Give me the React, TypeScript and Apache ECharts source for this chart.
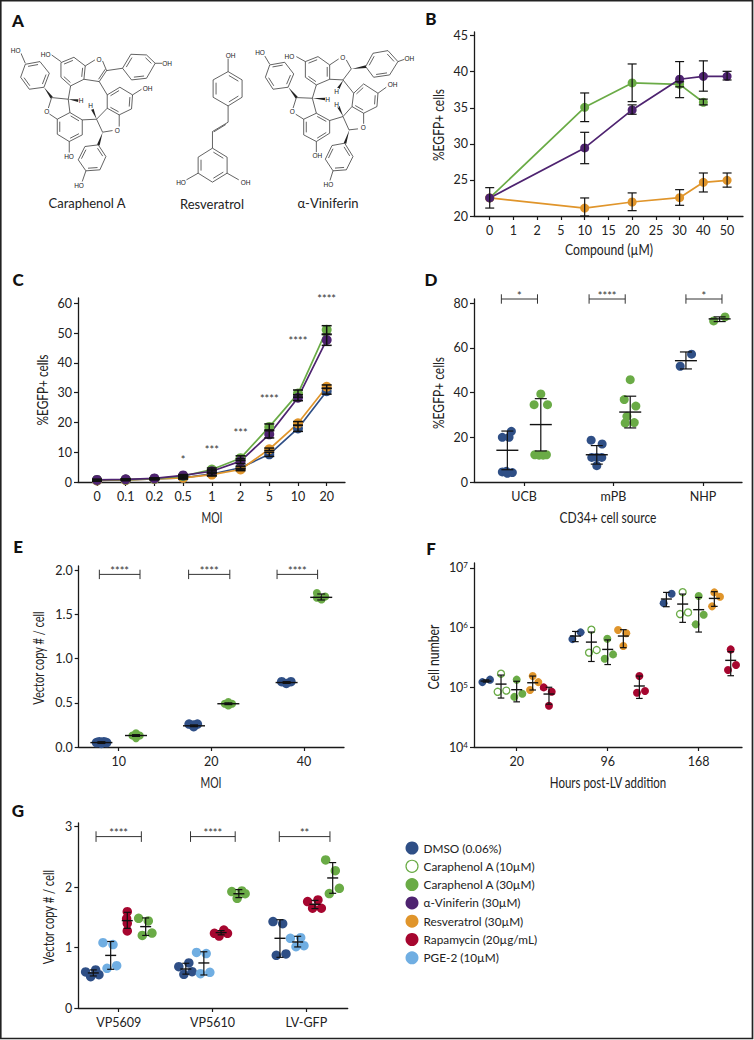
import React, { useEffect, useRef } from "react";
import * as echarts from "echarts";

const FONT = "Lato";
const INK = "#1a1a1a";
const COLORS: Record<string, string> = {
  dmso: "#2f4f86", open: "#6aab46", cara: "#6aab46", vini: "#4e2370",
  resv: "#e0952b", rapa: "#a6062f", pge: "#70aee2",
};

// ---------- Panel B ----------
const bCategories = ["0", "1", "2", "5", "10", "15", "20", "25", "30", "40", "50"];
const bCara = [22.5, null, null, null, 35.06, null, 38.44, null, 38.25, 35.76, null];
const bCaraLow = [22.5, null, null, null, 33.08, null, 35.85, null, 37.9, 35.4, null];
const bCaraHigh = [22.5, null, null, null, 37.05, null, 41.07, null, 38.6, 36.2, null];
const bVini = [22.5, null, null, null, 29.43, null, 34.7, null, 38.95, 39.36, 39.36];
const bViniLow = [21.1, null, null, null, 27.25, null, 34.1, null, 36.4, 37.3, 38.85];
const bViniHigh = [23.93, null, null, null, 31.6, null, 35.4, null, 41.4, 41.5, 40.05];
const bResv = [22.5, null, null, null, 21.1, null, 21.94, null, 22.54, 24.67, 24.95];
const bResvLow = [22.5, null, null, null, 20.0, null, 20.74, null, 21.48, 23.33, 24.0];
const bResvHigh = [22.5, null, null, null, 22.5, null, 23.2, null, 23.65, 25.96, 25.96];

// ---------- Panel C ----------
const cCategories = ["0", "0.1", "0.2", "0.5", "1", "2", "5", "10", "20"];
const cDmso = [0.5, 0.7, 1.0, 1.4, 2.7, 4.8, 9.3, 18, 30.5];
const cDmsoErr = [0.2, 0.2, 0.2, 0.3, 0.4, 0.5, 0.7, 1, 1];
const cResv = [0.5, 0.7, 1.0, 1.4, 2.5, 4.2, 11, 19.7, 32];
const cResvErr = [0.2, 0.2, 0.2, 0.4, 0.5, 0.4, 0.4, 0.6, 0.6];
const cCara = [0.7, 0.8, 1.1, 2.0, 4.2, 8, 18.5, 29.7, 51.1];
const cCaraErr = [0.2, 0.2, 0.2, 0.3, 0.5, 0.8, 1.0, 1.2, 1.4];
const cVini = [0.7, 0.9, 1.2, 2.2, 3.6, 7, 16, 28.3, 47.7];
const cViniErr = [0.2, 0.2, 0.2, 0.3, 0.5, 0.8, 1.2, 1.0, 1.8];
const cStars: [number, number, string][] = [
  [3, 8.4, "*"], [4, 12, "***"], [5, 17.8, "***"], [6, 29.2, "****"], [7, 48.4, "****"], [8, 62.5, "****"],
];

// ---------- Panel D ----------
const dCategories = ["UCB", "mPB", "NHP"];
// category, compound, offset within the category, mean, low, high, dot offsets, dot values
type Group = [number, string, number, number, number, number, number[], number[]];
const dUcb: Group[] = [
  [0, "dmso", -0.187, 14.2, 5.5, 22.8, [-0.142, -0.243, -0.168, -0.243, -0.187, -0.131, -0.198], [22.7, 20, 20, 4.5, 3.9, 4.2, 4.8]],
  [0, "cara", 0.187, 25.7, 13.9, 37.3, [0.187, 0.112, 0.262, 0.12, 0.168, 0.213, 0.25], [39.4, 34.6, 34.6, 12.2, 12, 12, 12.2]],
];
const dMpb: Group[] = [
  [1, "dmso", -0.187, 12.2, 8, 16.3, [-0.25, -0.127, -0.243, -0.187, -0.131, -0.187], [18.7, 17, 11, 11, 11, 7.3]],
  [1, "cara", 0.187, 31.3, 24.2, 38.4, [0.187, 0.12, 0.25, 0.15, 0.131, 0.232], [45.8, 36.9, 34, 29.4, 26.4, 26.6]],
];
const dNhp: Group[] = [
  [2, "dmso", -0.19, 54.3, 50.6, 58.2, [-0.127, -0.254], [57.2, 51.8]],
  [2, "cara", 0.187, 73, 71.8, 73.9, [0.247, 0.12], [73.9, 72.1]],
];
const dBrackets: [number, number, number, string][] = [
  [-0.254, 0.15, 81.9, "*"], [0.727, 1.131, 81.9, "****"], [1.81, 2.213, 81.9, "*"],
];

// ---------- Panel E ----------
const eCategories = ["10", "20", "40"];
const eDmso: Group[] = [
  [0, "dmso", -0.187, 0.05, 0.04, 0.06, [-0.24, -0.21, -0.187, -0.16, -0.13], [0.05, 0.06, 0.04, 0.06, 0.05]],
  [1, "dmso", -0.187, 0.24, 0.23, 0.25, [-0.24, -0.15, -0.19, -0.19], [0.26, 0.26, 0.23, 0.25]],
  [2, "dmso", -0.187, 0.73, 0.72, 0.74, [-0.24, -0.14, -0.19], [0.74, 0.74, 0.72]],
];
const eCara: Group[] = [
  [0, "cara", 0.187, 0.13, 0.12, 0.14, [0.148, 0.187, 0.187, 0.227], [0.13, 0.155, 0.1, 0.13]],
  [1, "cara", 0.184, 0.49, 0.48, 0.5, [0.145, 0.184, 0.184, 0.224], [0.49, 0.51, 0.47, 0.49]],
  [2, "cara", 0.187, 1.695, 1.665, 1.733, [0.14, 0.19, 0.14, 0.23], [1.745, 1.67, 1.69, 1.705]],
];
const eBrackets: [number, number, number, string][] = [
  [-0.209, 0.23, 1.955, "****"], [0.755, 1.2, 1.955, "****"], [1.71, 2.148, 1.955, "****"],
];

// ---------- Panel F ----------
const fCategories = ["20", "96", "168"];
const f20h: Group[] = [
  [0, "dmso", -0.337, 1.27e5, 1.22e5, 1.33e5, [-0.377, -0.293], [1.22e5, 1.34e5]],
  [0, "open", -0.172, 1.13e5, 6.6e4, 1.6e5, [-0.172, -0.209, -0.114], [1.69e5, 8.4e4, 8.8e4]],
  [0, "cara", 0, 9.1e4, 5.7e4, 1.26e5, [0, -0.026, 0.062], [1.34e5, 6.9e4, 7.8e4]],
  [0, "resv", 0.176, 1.19e5, 9.0e4, 1.54e5, [0.176, 0.238, 0.147], [1.54e5, 1.22e5, 9.0e4]],
  [0, "rapa", 0.355, 7.7e4, 5.2e4, 1.0e5, [0.297, 0.385, 0.355], [9.95e4, 8.4e4, 4.9e4]],
];
const f96h: Group[] = [
  [1, "dmso", -0.355, 7.2e5, 5.8e5, 8.6e5, [-0.388, -0.297], [6.4e5, 8.3e5]],
  [1, "open", -0.179, 5.7e5, 2.7e5, 8.4e5, [-0.179, -0.205, -0.121], [9.2e5, 3.8e5, 4.2e5]],
  [1, "cara", 0, 4.3e5, 2.4e5, 6.2e5, [-0.004, -0.033, 0.059], [6.5e5, 3.0e5, 3.55e5]],
  [1, "resv", 0.172, 7.2e5, 4.6e5, 9.2e5, [0.114, 0.205, 0.172], [9.1e5, 8.0e5, 4.9e5]],
  [1, "rapa", 0.348, 1.05e5, 6.5e4, 1.54e5, [0.348, 0.322, 0.41], [1.54e5, 8.1e4, 8.65e4]],
];
const f168h: Group[] = [
  [2, "dmso", -0.355, 3.0e6, 2.23e6, 3.87e6, [-0.385, -0.297], [2.56e6, 3.67e6]],
  [2, "open", -0.176, 2.47e6, 1.22e6, 3.63e6, [-0.176, -0.205, -0.117], [3.9e6, 1.68e6, 1.79e6]],
  [2, "cara", 0, 1.99e6, 8.4e5, 3.19e6, [0, -0.033, 0.055], [3.36e6, 1.13e6, 1.64e6]],
  [2, "resv", 0.172, 3.07e6, 2.26e6, 3.98e6, [0.172, 0.234, 0.147], [3.87e6, 3.27e6, 2.26e6]],
  [2, "rapa", 0.352, 2.82e5, 1.56e5, 3.94e5, [0.352, 0.41, 0.322], [4.3e5, 2.36e5, 1.94e5]],
];

// ---------- Panel G ----------
const gCategories = ["VP5609", "VP5610", "LV-GFP"];
const g5609: Group[] = [
  [0, "dmso", -0.27, 0.58, 0.53, 0.63, [-0.352, -0.245, -0.298, -0.21], [0.596, 0.629, 0.518, 0.552]],
  [0, "pge", -0.085, 0.87, 0.64, 1.1, [-0.167, -0.06, -0.124, -0.021], [1.08, 1.05, 0.656, 0.7]],
  [0, "rapa", 0.092, 1.445, 1.318, 1.583, [0.092, 0.085, 0.092, 0.092], [1.594, 1.478, 1.4, 1.274]],
  [0, "cara", 0.288, 1.346, 1.2, 1.49, [0.213, 0.316, 0.355, 0.252], [1.484, 1.44, 1.24, 1.2]],
];
const g5610: Group[] = [
  [1, "dmso", -0.284, 0.645, 0.56, 0.74, [-0.359, -0.252, -0.305, -0.217], [0.684, 0.745, 0.557, 0.6]],
  [1, "pge", -0.092, 0.745, 0.546, 0.93, [-0.17, -0.067, -0.128, -0.028], [0.92, 0.9, 0.568, 0.59]],
  [1, "rapa", 0.092, 1.247, 1.21, 1.28, [0.021, 0.121, 0.071, 0.16], [1.235, 1.29, 1.19, 1.235]],
  [1, "cara", 0.281, 1.89, 1.826, 1.958, [0.206, 0.313, 0.263, 0.348], [1.925, 1.936, 1.815, 1.89]],
];
const gLvGfp: Group[] = [
  [2, "dmso", -0.281, 1.153, 0.838, 1.46, [-0.355, -0.252, -0.32, -0.217], [1.43, 1.395, 0.871, 0.894]],
  [2, "pge", -0.092, 1.092, 1.01, 1.186, [-0.17, -0.06, -0.11, -0.025], [1.153, 1.164, 1.015, 1.03]],
  [2, "rapa", 0.092, 1.715, 1.644, 1.78, [0.014, 0.124, 0.067, 0.16], [1.76, 1.787, 1.65, 1.65]],
  [2, "cara", 0.281, 2.151, 1.897, 2.405, [0.206, 0.309, 0.245, 0.352], [2.449, 2.272, 1.892, 1.98]],
];
const gBrackets: [number, number, number, string][] = [
  [-0.241, 0.242, 2.835, "****"], [-0.234 + 1, 0.242 + 1, 2.835, "****"], [-0.288 + 2, 0.252 + 2, 2.835, "**"],
];

// ---------- Legend ----------
const legendItems: [string, string][] = [
  ["dmso", "DMSO (0.06%)"], ["open", "Caraphenol A (10µM)"], ["cara", "Caraphenol A (30µM)"],
  ["vini", "α-Viniferin (30µM)"], ["resv", "Resveratrol (30µM)"], ["rapa", "Rapamycin (20µg/mL)"], ["pge", "PGE-2 (10µM)"],
];

// ---------- Axis titles: text, horizontal?, centre x, centre y, printed length ----------
const axisTitles: [string, boolean, number, number, number][] = [
  ["%EGFP+ cells", false, 437.7, 125, 72], ["Compound (µM)", true, 609, 249, 88],
  ["%EGFP+ cells", false, 41.7, 390, 71], ["MOI", true, 212, 516.7, 21],
  ["%EGFP+ cells", false, 437.7, 393, 72], ["CD34+ cell source", true, 608, 517, 97],
  ["Vector copy # / cell", false, 38, 658, 94], ["MOI", true, 211, 782, 21],
  ["Cell number", false, 432.7, 657, 65], ["Hours post-LV addition", true, 608, 782, 117],
  ["Vector copy # / cell", false, 48, 917, 95],
];

// ---------- Panel A: skeletal formulas, in the 3x drawing space ----------
type P = [number, number];
const seg = (a: P, b: P) => `M${a[0]} ${a[1]}L${b[0]} ${b[1]}`;
function ring(pts: P[], start = 0) {
  let d = `M${pts[0][0]} ${pts[0][1]}` + pts.slice(1).map((p) => `L${p[0]} ${p[1]}`).join("") + "Z";
  const cx = pts.reduce((s, p) => s + p[0], 0) / pts.length;
  const cy = pts.reduce((s, p) => s + p[1], 0) / pts.length;
  for (let i = start; i < pts.length; i += 2) {
    const a = pts[i], b = pts[(i + 1) % pts.length];
    const ia: P = [a[0] + (cx - a[0]) * 0.2 + (b[0] - a[0]) * 0.06, a[1] + (cy - a[1]) * 0.2 + (b[1] - a[1]) * 0.06];
    const ib: P = [b[0] + (cx - b[0]) * 0.2 + (a[0] - b[0]) * 0.06, b[1] + (cy - b[1]) * 0.2 + (a[1] - b[1]) * 0.06];
    d += seg(ia, ib);
  }
  return d;
}
const molPath = [
  // Caraphenol A
  seg([63, 160], [76, 190]), ring([[76, 193], [120, 185], [148, 220], [132, 262], [88, 268], [62, 232]]),
  seg([155, 165], [183, 185]), ring([[183, 188], [222, 172], [256, 198], [252, 238], [212, 258], [183, 232]]),
  seg([256, 198], [285, 180]), seg([308, 183], [320, 212]), seg([320, 212], [298, 245]), seg([316, 208], [296, 238]), seg([298, 245], [252, 238]),
  seg([320, 212], [368, 205]), ring([[368, 205], [393, 163], [440, 165], [466, 190], [440, 235], [395, 240]]), seg([466, 190], [488, 190]),
  seg([298, 245], [322, 285]), ring([[322, 285], [360, 262], [398, 285], [395, 327], [358, 345], [322, 325]]), seg([398, 285], [425, 268]),
  seg([358, 345], [358, 380]), seg([338, 392], [308, 397]), seg([308, 397], [290, 358]), seg([290, 358], [322, 325]),
  ring([[295, 435], [318, 470], [300, 510], [258, 513], [235, 480], [255, 440]]), seg([258, 513], [247, 545]),
  seg([155, 293], [205, 298]), seg([155, 293], [145, 325]), seg([148, 342], [172, 358]), seg([205, 298], [210, 338]),
  ring([[210, 338], [247, 360], [247, 405], [208, 425], [172, 403], [172, 358]]), seg([208, 425], [208, 458]),
  seg([247, 360], [290, 358]), seg([212, 258], [205, 298]),
  // Resveratrol
  seg([685, 175], [685, 215]), ring([[685, 215], [727, 240], [727, 292], [685, 318], [640, 292], [640, 240]]),
  seg([685, 318], [685, 367]), seg([685, 367], [638, 395]), seg([678, 374], [642, 396]), seg([638, 395], [638, 445]),
  ring([[638, 445], [682, 472], [682, 520], [638, 547], [595, 520], [595, 472]]), seg([595, 520], [560, 540]), seg([682, 520], [717, 540]),
  // alpha-Viniferin
  seg([795, 168], [810, 193]), ring([[810, 195], [855, 187], [882, 222], [865, 262], [820, 268], [797, 232]]),
  seg([890, 293], [938, 295]), seg([890, 293], [880, 325]), seg([888, 343], [912, 358]), seg([938, 295], [950, 340]),
  ring([[950, 340], [990, 362], [990, 400], [950, 425], [912, 405], [912, 358]]), seg([950, 425], [950, 458]),
  seg([990, 362], [1030, 350]), seg([938, 295], [950, 255]),
  seg([890, 170], [917, 185]), ring([[917, 185], [955, 170], [990, 195], [990, 238], [950, 255], [917, 232]]),
  seg([990, 195], [1017, 177]), seg([1040, 180], [1055, 207]), seg([1055, 207], [1030, 240]), seg([1030, 240], [990, 238]),
  ring([[1098, 200], [1120, 160], [1165, 152], [1195, 185], [1170, 225], [1122, 232]]), seg([1195, 185], [1215, 178]),
  seg([1030, 240], [1062, 280]), ring([[1062, 280], [1092, 252], [1135, 280], [1132, 320], [1092, 340], [1057, 320]]), seg([1135, 280], [1160, 262]),
  seg([1092, 340], [1092, 372]), seg([1075, 387], [1048, 390]), seg([1048, 390], [1030, 350]), seg([1030, 350], [1057, 320]),
  ring([[1035, 430], [1060, 470], [1040, 510], [1000, 513], [977, 478], [997, 437]]), seg([1000, 513], [990, 545]),
].join("");
echarts.graphic.registerShape("mol", echarts.graphic.extendPath(molPath, {}) as any);

const wedges: [P, P][] = [
  [[132, 262], [155, 293]], [[205, 298], [235, 302]], [[290, 358], [277, 328]], [[308, 397], [295, 435]],
  [[865, 262], [890, 293]], [[938, 295], [975, 297]], [[1055, 207], [1098, 200]], [[1030, 240], [1015, 265]],
  [[1030, 350], [1015, 320]], [[1048, 390], [1035, 430]],
];
const atomLabels: [number, number, string][] = [
  [47, 152, "HO"], [137, 163, "HO"], [297, 178, "O"], [501, 190, "OH"], [443, 265, "OH"], [243, 302, "H"], [272, 317, "H"],
  [140, 335, "O"], [352, 392, "O"], [207, 470, "HO"], [237, 557, "HO"],
  [692, 165, "OH"], [543, 547, "HO"], [737, 547, "OH"],
  [780, 158, "HO"], [868, 168, "HO"], [1028, 172, "O"], [1228, 176, "OH"], [1178, 253, "OH"], [983, 297, "H"], [1010, 275, "H"],
  [1010, 312, "H"], [877, 335, "O"], [1090, 382, "O"], [952, 467, "OH"], [985, 552, "HO"],
];
const compoundNames: [number, number, string][] = [[87, 203, "Caraphenol A"], [212, 204, "Resveratrol"], [328, 203, "α-Viniferin"]];
const panelLetters: [number, number, string][] = [
  [18, 20, "A"], [431, 18, "B"], [18, 279, "C"], [431, 279, "D"], [18, 546, "E"], [431, 548, "F"], [18, 810, "G"],
];

// ---------- Helpers ----------
const grids = [
  { left: 474, top: 32, width: 269, height: 184 },   // B
  { left: 78, top: 298, width: 267, height: 184 },   // C
  { left: 474, top: 299, width: 268, height: 183 },  // D
  { left: 78.7, top: 566, width: 265.3, height: 181 }, // E
  { left: 474, top: 563, width: 268, height: 184 },  // F
  { left: 78.3, top: 823, width: 269.4, height: 185 }, // G
];

const line = { show: true, onZero: false, lineStyle: { color: INK, width: 1.3 } };
function xAxis(gi: number, min: number, max: number, cats: string[]) {
  const ticks = cats.map((_, i) => i);
  return {
    type: "value", gridIndex: gi, min, max,
    axisLine: line,
    axisTick: { show: true, length: 4, customValues: ticks, lineStyle: { color: INK, width: 1.2 } },
    axisLabel: { show: true, customValues: ticks, margin: 8, fontFamily: FONT, fontSize: 12.5, color: "#222", formatter: (v: number) => cats[Math.round(v)] ?? "" },
    splitLine: { show: false },
  };
}
function yAxis(gi: number, min: number, max: number, ticks: number[], fmt?: (v: number) => string) {
  return {
    type: "value", gridIndex: gi, min, max,
    axisLine: line,
    axisTick: { show: true, length: 4, customValues: ticks, lineStyle: { color: INK, width: 1.2 } },
    axisLabel: { show: true, customValues: ticks, margin: 6, fontFamily: FONT, fontSize: 12.5, color: "#222", formatter: fmt ?? ((v: number) => String(v)) },
    splitLine: { show: false },
  };
}

const capLine = (x1: number, y1: number, x2: number, y2: number, w: number, stroke = "#111") => ({
  type: "line", shape: { x1, y1, x2, y2 }, style: { stroke, lineWidth: w, fill: "none" },
});

function errSeries(gi: number, rows: number[][], cap: number, mean: number, w = 1.2) {
  return {
    type: "custom", xAxisIndex: gi, yAxisIndex: gi, z: 5, clip: false, silent: true,
    encode: { x: 0, y: [1, 2, 3] }, data: rows,
    renderItem: (_p: any, api: any) => {
      const x = api.value(0);
      const m = api.coord([x, api.value(1)]);
      const lo = api.coord([x, api.value(2)]);
      const hi = api.coord([x, api.value(3)]);
      return {
        type: "group",
        children: [
          capLine(m[0], lo[1], m[0], hi[1], w),
          capLine(m[0] - cap, lo[1], m[0] + cap, lo[1], w),
          capLine(m[0] - cap, hi[1], m[0] + cap, hi[1], w),
          ...(mean ? [capLine(m[0] - mean, m[1], m[0] + mean, m[1], 1.4)] : []),
        ],
      };
    },
  };
}

function starText(x: number, y: number, text: string) {
  return { type: "text", style: { x, y, text, textAlign: "center", textVerticalAlign: "middle", fill: "#333", font: `11px ${FONT}` } };
}
function bracketSeries(gi: number, rows: [number, number, number, string][], half: number) {
  return {
    type: "custom", xAxisIndex: gi, yAxisIndex: gi, z: 5, clip: false, silent: true,
    encode: { x: [0, 1], y: 2 }, data: rows,
    renderItem: (_p: any, api: any) => {
      const a = api.coord([api.value(0), api.value(2)]);
      const b = api.coord([api.value(1), api.value(2)]);
      const s = rows[_p.dataIndex][3];
      return {
        type: "group",
        children: [
          capLine(a[0], a[1], b[0], a[1], 1, "#333"),
          capLine(a[0], a[1] - half, a[0], a[1] + half, 1, "#333"),
          capLine(b[0], a[1] - half, b[0], a[1] + half, 1, "#333"),
          starText((a[0] + b[0]) / 2, a[1] - 4, s),
        ],
      };
    },
  };
}
function starSeries(gi: number, rows: [number, number, string][]) {
  return {
    type: "custom", xAxisIndex: gi, yAxisIndex: gi, z: 5, clip: false, silent: true,
    encode: { x: 0, y: 1 }, data: rows,
    renderItem: (p: any, api: any) => {
      const c = api.coord([api.value(0), api.value(1)]);
      return starText(c[0], c[1] + 3, rows[p.dataIndex][2]);
    },
  };
}

function dotSeries(gi: number, groups: Group[], size: number) {
  const out: any[] = [];
  groups.forEach((g) => {
    const [cat, key, , , , , offs, vals] = g;
    const hollow = key === "open";
    out.push({
      type: "scatter", xAxisIndex: gi, yAxisIndex: gi, symbol: "circle", symbolSize: hollow ? size - 1 : size, z: 3, clip: false, silent: true,
      itemStyle: hollow
        ? { color: "#fff", borderColor: COLORS[key], borderWidth: 1.3, opacity: 1 }
        : { color: COLORS[key], opacity: 1 },
      data: vals.map((v, i) => [cat + offs[i], v]),
    });
  });
  return out;
}
const summaryRows = (groups: Group[]) => groups.map((g) => [g[0] + g[2], g[3], g[4], g[5]]);

function lineSeries(gi: number, key: string, vals: (number | null)[], size = 9) {
  return {
    type: "line", xAxisIndex: gi, yAxisIndex: gi, symbol: "circle", symbolSize: size, z: 3, clip: false, silent: true,
    itemStyle: { color: COLORS[key] }, lineStyle: { color: COLORS[key], width: 1.7 },
    data: vals.map((v, i) => (v === null ? null : [i, v])).filter(Boolean),
  };
}
function bandRows(vals: (number | null)[], low: (number | null)[], high: (number | null)[]) {
  return vals.map((v, i) => (v === null ? null : [i, v, low[i], high[i]])).filter(Boolean) as number[][];
}
const symRows = (vals: number[], err: number[]) => vals.map((v, i) => [i, v, v - err[i], v + err[i]]);

function buildOption() {
  const titleFont = `15.5px ${FONT}`;
  const measure = document.createElement("canvas").getContext("2d")!;
  measure.font = titleFont;

  const graphic: any[] = [
    { type: "rect", shape: { x: 0.75, y: 0.75, width: 751.75, height: 1037.75 }, style: { fill: "none", stroke: "#222", lineWidth: 1.7 }, silent: true },
    { type: "mol", x: 0, y: 0, scaleX: 1 / 3, scaleY: 1 / 3, style: { fill: "none", stroke: "#2a2a2a", lineWidth: 2.2 }, silent: true },
  ];
  wedges.forEach(([a, b]) => {
    const dx = b[0] - a[0], dy = b[1] - a[1], len = Math.hypot(dx, dy);
    const nx = (-dy / len) * 4, ny = (dx / len) * 4;
    graphic.push({
      type: "polygon", silent: true, style: { fill: "#222" },
      shape: { points: [[a[0] / 3, a[1] / 3], [(b[0] + nx) / 3, (b[1] + ny) / 3], [(b[0] - nx) / 3, (b[1] - ny) / 3]] },
    });
  });
  atomLabels.forEach(([x, y, t]) => graphic.push({
    type: "text", x: x / 3, y: y / 3, silent: true,
    style: { text: t, fill: "#222", font: "6.5px 'Liberation Sans'", textAlign: "center", textVerticalAlign: "middle", backgroundColor: "#fff" },
  }));
  compoundNames.forEach(([x, y, t]) => graphic.push({
    type: "text", x, y, silent: true, style: { text: t, fill: "#222", font: `13px ${FONT}`, textAlign: "center", textVerticalAlign: "middle" },
  }));
  panelLetters.forEach(([x, y, t]) => graphic.push({
    type: "text", x, y, silent: true, style: { text: t, fill: "#111", font: `900 17px ${FONT}`, textAlign: "center", textVerticalAlign: "middle" },
  }));
  axisTitles.forEach(([t, horizontal, x, y, len]) => graphic.push({
    type: "text", x, y, silent: true, rotation: horizontal ? 0 : Math.PI / 2, scaleX: len / measure.measureText(t).width,
    style: { text: t, fill: "#222", font: titleFont, textAlign: "center", textVerticalAlign: "middle" },
  }));
  legendItems.forEach(([key, t], i) => {
    const cy = 848 + i * 18.3;
    graphic.push(key === "open"
      ? { type: "circle", silent: true, shape: { cx: 412, cy, r: 6 }, style: { fill: "#fff", stroke: COLORS[key], lineWidth: 1.2 } }
      : { type: "circle", silent: true, shape: { cx: 412, cy, r: 6.5 }, style: { fill: COLORS[key] } });
    graphic.push({ type: "text", x: 423.5, y: cy, silent: true, style: { text: t, fill: "#222", font: `11.8px ${FONT}`, textAlign: "left", textVerticalAlign: "middle" } });
  });

  const fLabel = (v: number) => `{b|10}{s|${Math.round(Math.log10(v))}}`;
  const fAxis: any = {
    type: "log", gridIndex: 4, logBase: 10, min: 1e4, max: Math.pow(10, 7.08),
    axisLine: line,
    axisTick: { show: true, length: 4, customValues: [1e4, 1e5, 1e6, 1e7], lineStyle: { color: INK, width: 1.2 } },
    minorTick: { show: false },
    axisLabel: {
      show: true, customValues: [1e4, 1e5, 1e6, 1e7], margin: 6, formatter: fLabel,
      rich: {
        b: { fontFamily: FONT, fontSize: 12.5, color: "#222" },
        s: { fontFamily: FONT, fontSize: 8, color: "#222", verticalAlign: "top", padding: [0, 0, 5, 0] },
      },
    },
    splitLine: { show: false },
  };

  const fGroups = [...f20h, ...f96h, ...f168h];
  const gGroups = [...g5609, ...g5610, ...gLvGfp];
  const dGroups = [...dUcb, ...dMpb, ...dNhp];
  const eGroups = [...eDmso, ...eCara];

  return {
    animation: false,
    backgroundColor: "#fff",
    grid: grids.map((g) => ({ ...g, containLabel: false })),
    xAxis: [
      xAxis(0, -0.662, 10.67, bCategories),
      xAxis(1, -0.662, 8.638, cCategories),
      xAxis(2, -0.56, 2.437, dCategories),
      xAxis(3, -0.432, 2.433, eCategories),
      xAxis(4, -0.469, 2.476, fCategories),
      xAxis(5, -0.43, 2.441, gCategories),
    ],
    yAxis: [
      yAxis(0, 20, 45.5, [20, 25, 30, 35, 40, 45]),
      yAxis(1, 0, 61.8, [0, 10, 20, 30, 40, 50, 60]),
      yAxis(2, 0, 81.9, [0, 20, 40, 60, 80]),
      yAxis(3, 0, 2.05, [0, 0.5, 1, 1.5, 2], (v) => v.toFixed(1)),
      fAxis,
      yAxis(5, 0, 3.06, [0, 1, 2, 3]),
    ],
    series: [
      // B
      lineSeries(0, "cara", bCara), lineSeries(0, "resv", bResv), lineSeries(0, "vini", bVini),
      errSeries(0, [...bandRows(bCara, bCaraLow, bCaraHigh).slice(1), ...bandRows(bVini, bViniLow, bViniHigh), ...bandRows(bResv, bResvLow, bResvHigh).slice(1)], 4.5, 0),
      // C
      lineSeries(1, "dmso", cDmso, 10), lineSeries(1, "resv", cResv, 10), lineSeries(1, "cara", cCara, 10), lineSeries(1, "vini", cVini, 10),
      errSeries(1, [...symRows(cDmso, cDmsoErr), ...symRows(cResv, cResvErr), ...symRows(cCara, cCaraErr), ...symRows(cVini, cViniErr)], 5, 0, 1.5),
      starSeries(1, cStars),
      // D
      ...dotSeries(2, dGroups, 9), errSeries(2, summaryRows(dGroups), 6, 11), bracketSeries(2, dBrackets, 4.7),
      // E
      ...dotSeries(3, eDmso, 9.5), ...dotSeries(3, eCara, 8), errSeries(3, summaryRows(eGroups), 4, 11), bracketSeries(3, eBrackets, 4.7),
      // F
      ...dotSeries(4, fGroups, 8), errSeries(4, summaryRows(fGroups), 3.3, 5.5),
      // G
      ...dotSeries(5, gGroups, 9.5), errSeries(5, summaryRows(gGroups), 3.5, 5.5), bracketSeries(5, gBrackets, 5.3),
    ],
    graphic: { elements: graphic },
  };
}

export default function App() {
  const ref = useRef<HTMLDivElement>(null);
  useEffect(() => {
    document.body.style.margin = "0";
    const chart = echarts.init(ref.current!, undefined, { renderer: "svg" });
    chart.setOption(buildOption() as any);
    return () => chart.dispose();
  }, []);
  return <div ref={ref} style={{ width: 754, height: 1040 }} />;
}
